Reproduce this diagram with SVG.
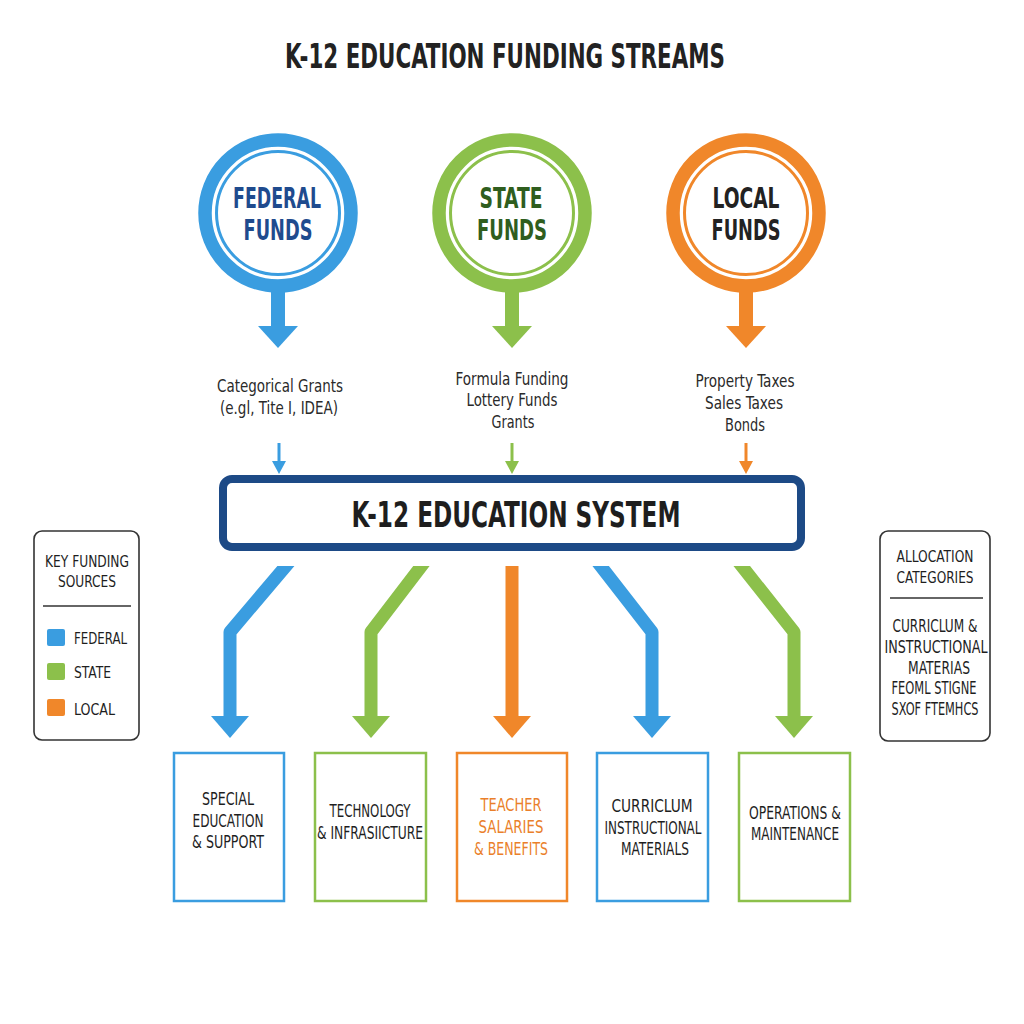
<svg xmlns="http://www.w3.org/2000/svg" width="1024" height="1024" viewBox="0 0 1024 1024">
<style>
  text { font-family: "DejaVu Sans Condensed", "DejaVu Sans", "Liberation Sans", sans-serif; font-stretch: condensed; text-anchor: middle; fill: #222; }
  .title { font-size: 33px; font-weight: bold; }
  .circ { font-size: 29px; font-weight: bold; }
  .lbl { font-size: 17px; fill: #2a2a2a; }
  .sys { font-size: 35px; font-weight: bold; fill: #1e1e1e; }
  .key { font-size: 16px; fill: #1e1e1e; }
  .leg { font-size: 16px; text-anchor: start; fill: #1e1e1e; }
  .box { font-size: 18px; fill: #1e1e1e; }
  .ring { fill: #fff; stroke-width: 13.5; }
  .thin { fill: none; stroke-width: 3; }
  .bl { stroke: #3a9de0; fill: #3a9de0; }
  .gr { stroke: #8cc04b; fill: #8cc04b; }
  .or { stroke: #f0872a; fill: #f0872a; }
  .flow { fill: none; stroke-width: 13; stroke-linejoin: round; }
  .cat { fill: #fff; stroke-width: 2.5; }
  .panel { fill: #fff; stroke: #333; stroke-width: 1.6; }
</style>
<defs>
  <clipPath id="below"><rect x="0" y="566" width="1024" height="200"/></clipPath>
</defs>
<rect width="1024" height="1024" fill="#fff"/>

<text class="title" x="505" y="68" textLength="440" lengthAdjust="spacingAndGlyphs">K-12 EDUCATION FUNDING STREAMS</text>

<g id="federal">
  <circle class="ring bl" cx="278" cy="213" r="73" style="fill:#fff"/>
  <circle class="thin bl" cx="278" cy="213" r="61.5" style="fill:none"/>
  <text class="circ" x="277" y="208" textLength="88" lengthAdjust="spacingAndGlyphs" style="fill:#1f4b8e">FEDERAL</text>
  <text class="circ" x="278" y="240" textLength="69" lengthAdjust="spacingAndGlyphs" style="fill:#1f4b8e">FUNDS</text>
</g>
<g id="state">
  <circle class="ring gr" cx="512" cy="213" r="73" style="fill:#fff"/>
  <circle class="thin gr" cx="512" cy="213" r="61.5" style="fill:none"/>
  <text class="circ" x="511" y="208" textLength="63" lengthAdjust="spacingAndGlyphs" style="fill:#2f5e1e">STATE</text>
  <text class="circ" x="512" y="240" textLength="70" lengthAdjust="spacingAndGlyphs" style="fill:#2f5e1e">FUNDS</text>
</g>
<g id="local">
  <circle class="ring or" cx="746" cy="213" r="73" style="fill:#fff"/>
  <circle class="thin or" cx="746" cy="213" r="61.5" style="fill:none"/>
  <text class="circ" x="746" y="208" textLength="67" lengthAdjust="spacingAndGlyphs">LOCAL</text>
  <text class="circ" x="746" y="240" textLength="69" lengthAdjust="spacingAndGlyphs">FUNDS</text>
</g>

<g id="source-labels">
  <text class="lbl" x="280" y="392" textLength="126" lengthAdjust="spacingAndGlyphs">Categorical Grants</text>
  <text class="lbl" x="279" y="414" textLength="118" lengthAdjust="spacingAndGlyphs">(e.gl, Tite I, IDEA)</text>
  <text class="lbl" x="512" y="385" textLength="113" lengthAdjust="spacingAndGlyphs">Formula Funding</text>
  <text class="lbl" x="512" y="406" textLength="91" lengthAdjust="spacingAndGlyphs">Lottery Funds</text>
  <text class="lbl" x="513" y="428" textLength="43" lengthAdjust="spacingAndGlyphs">Grants</text>
  <text class="lbl" x="745" y="387" textLength="99" lengthAdjust="spacingAndGlyphs">Property Taxes</text>
  <text class="lbl" x="744" y="409" textLength="78" lengthAdjust="spacingAndGlyphs">Sales Taxes</text>
  <text class="lbl" x="745" y="431" textLength="40" lengthAdjust="spacingAndGlyphs">Bonds</text>
</g>

<g id="system">
  <rect x="223" y="479" width="578" height="68" rx="9" fill="#fff" stroke="#1d4a86" stroke-width="8"/>
  <text class="sys" x="516" y="527" textLength="329" lengthAdjust="spacingAndGlyphs">K-12 EDUCATION SYSTEM</text>
</g>

<g id="key-funding-sources">
  <rect class="panel" x="34" y="531" width="105" height="209" rx="8"/>
  <text class="key" x="87" y="567" textLength="84" lengthAdjust="spacingAndGlyphs">KEY FUNDING</text>
  <text class="key" x="87" y="587" textLength="58" lengthAdjust="spacingAndGlyphs">SOURCES</text>
  <line x1="43" y1="606" x2="131" y2="606" stroke="#333" stroke-width="1.3"/>
  <rect x="47" y="629" width="18" height="17" rx="2" fill="#3a9de0"/>
  <text class="leg" x="74" y="644" textLength="53" lengthAdjust="spacingAndGlyphs">FEDERAL</text>
  <rect x="47" y="663" width="18" height="17" rx="2" fill="#8cc04b"/>
  <text class="leg" x="74" y="678" textLength="37" lengthAdjust="spacingAndGlyphs">STATE</text>
  <rect x="47" y="699" width="18" height="17" rx="2" fill="#f0872a"/>
  <text class="leg" x="74" y="715" textLength="41" lengthAdjust="spacingAndGlyphs">LOCAL</text>
</g>

<g id="allocation-categories">
  <rect class="panel" x="880" y="531" width="110" height="210" rx="8"/>
  <text class="key" x="935" y="562" textLength="77" lengthAdjust="spacingAndGlyphs">ALLOCATION</text>
  <text class="key" x="935" y="583" textLength="77" lengthAdjust="spacingAndGlyphs">CATEGORIES</text>
  <line x1="890" y1="598" x2="983" y2="598" stroke="#333" stroke-width="1.3"/>
  <text class="box" x="935" y="632" textLength="85" lengthAdjust="spacingAndGlyphs">CURRICLUM &amp;</text>
  <text class="box" x="936" y="653" textLength="103" lengthAdjust="spacingAndGlyphs">INSTRUCTIONAL</text>
  <text class="box" x="939" y="674" textLength="62" lengthAdjust="spacingAndGlyphs">MATERIAS</text>
  <text class="box" x="934" y="694" textLength="85" lengthAdjust="spacingAndGlyphs">FEOML STIGNE</text>
  <text class="box" x="935" y="715" textLength="87" lengthAdjust="spacingAndGlyphs">SXOF FTEMHCS</text>
</g>

<g id="cat-special">
  <rect class="cat" x="174" y="753" width="110" height="148" stroke="#3a9de0"/>
  <text class="box" x="228" y="805" textLength="52" lengthAdjust="spacingAndGlyphs">SPECIAL</text>
  <text class="box" x="228" y="827" textLength="71" lengthAdjust="spacingAndGlyphs">EDUCATION</text>
  <text class="box" x="228" y="848" textLength="72" lengthAdjust="spacingAndGlyphs">&amp; SUPPORT</text>
</g>
<g id="cat-technology">
  <rect class="cat" x="315" y="753" width="111" height="148" stroke="#8cc04b"/>
  <text class="box" x="370" y="817" textLength="81" lengthAdjust="spacingAndGlyphs">TECHNOLOGY</text>
  <text class="box" x="370" y="839" textLength="106" lengthAdjust="spacingAndGlyphs">&amp; INFRASIICTURE</text>
</g>
<g id="cat-teacher">
  <rect class="cat" x="457" y="753" width="110" height="148" stroke="#f0872a"/>
  <text class="box" x="511" y="811" textLength="61" lengthAdjust="spacingAndGlyphs" style="fill:#ea7f2a">TEACHER</text>
  <text class="box" x="511" y="833" textLength="65" lengthAdjust="spacingAndGlyphs" style="fill:#ea7f2a">SALARIES</text>
  <text class="box" x="511" y="855" textLength="74" lengthAdjust="spacingAndGlyphs" style="fill:#ea7f2a">&amp; BENEFITS</text>
</g>
<g id="cat-curriculum">
  <rect class="cat" x="597" y="753" width="111" height="148" stroke="#3a9de0"/>
  <text class="box" x="652" y="812" textLength="81" lengthAdjust="spacingAndGlyphs">CURRICLUM</text>
  <text class="box" x="653" y="834" textLength="97" lengthAdjust="spacingAndGlyphs">INSTRUCTIONAL</text>
  <text class="box" x="655" y="855" textLength="68" lengthAdjust="spacingAndGlyphs">MATERIALS</text>
</g>
<g id="cat-operations">
  <rect class="cat" x="739" y="753" width="111" height="148" stroke="#8cc04b"/>
  <text class="box" x="795" y="819" textLength="92" lengthAdjust="spacingAndGlyphs">OPERATIONS &amp;</text>
  <text class="box" x="795" y="840" textLength="88" lengthAdjust="spacingAndGlyphs">MAINTENANCE</text>
</g>

<g id="connectors">
  <rect x="271" y="290" width="14" height="38" fill="#3a9de0"/>
  <polygon points="258,326 298,326 278,348" fill="#3a9de0"/>
  <rect x="505" y="290" width="14" height="38" fill="#8cc04b"/>
  <polygon points="492,326 532,326 512,348" fill="#8cc04b"/>
  <rect x="739" y="290" width="14" height="38" fill="#f0872a"/>
  <polygon points="726,326 766,326 746,348" fill="#f0872a"/>
  <line x1="279" y1="443" x2="279" y2="463" stroke="#3a9de0" stroke-width="3"/>
  <polygon points="272,461 286,461 279,474" fill="#3a9de0"/>
  <line x1="512" y1="443" x2="512" y2="463" stroke="#8cc04b" stroke-width="3"/>
  <polygon points="505,461 519,461 512,474" fill="#8cc04b"/>
  <line x1="746" y1="443" x2="746" y2="463" stroke="#f0872a" stroke-width="3"/>
  <polygon points="739,461 753,461 746,474" fill="#f0872a"/>
  <g clip-path="url(#below)">
    <path class="flow bl" style="fill:none" d="M291,560 L230,632 L230,718"/>
    <path class="flow gr" style="fill:none" d="M426,560 L371,632 L371,718"/>
    <path class="flow or" style="fill:none" d="M512,560 L512,718"/>
    <path class="flow bl" style="fill:none" d="M596,560 L652,632 L652,718"/>
    <path class="flow gr" style="fill:none" d="M737,560 L794,632 L794,718"/>
  </g>
  <polygon points="211,716 249,716 230,738" fill="#3a9de0"/>
  <polygon points="352,716 390,716 371,738" fill="#8cc04b"/>
  <polygon points="493,716 531,716 512,738" fill="#f0872a"/>
  <polygon points="633,716 671,716 652,738" fill="#3a9de0"/>
  <polygon points="775,716 813,716 794,738" fill="#8cc04b"/>
</g>
</svg>
